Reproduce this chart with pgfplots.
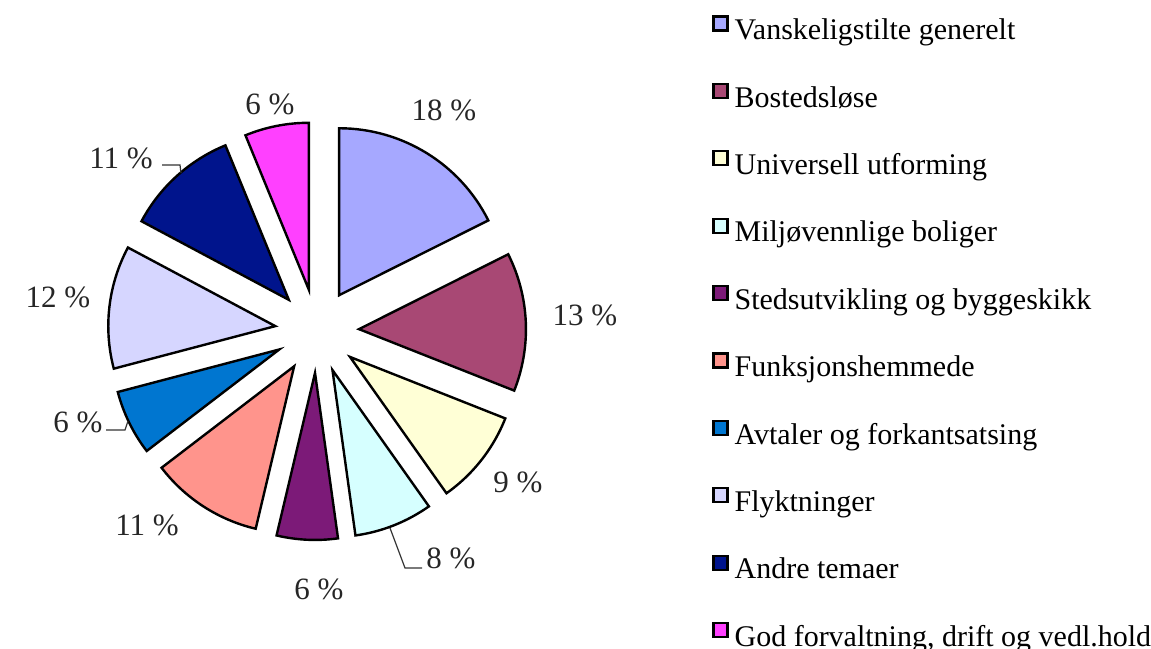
\documentclass[border=0pt]{standalone}
\usepackage{pgfplots}
\pgfplotsset{compat=1.18}
\usepackage{pgfplotstable}
\usepackage{fontspec}
\setmainfont{Liberation Serif}

\definecolor{cA}{RGB}{166,168,255}
\definecolor{cB}{RGB}{168,72,116}
\definecolor{cC}{RGB}{255,255,214}
\definecolor{cD}{RGB}{214,255,255}
\definecolor{cE}{RGB}{124,26,120}
\definecolor{cF}{RGB}{255,148,140}
\definecolor{cG}{RGB}{0,118,208}
\definecolor{cH}{RGB}{214,214,255}
\definecolor{cI}{RGB}{0,20,140}
\definecolor{cJ}{RGB}{255,64,255}

% share (%), fill colour, label position (pixels, y downwards)
\pgfplotstableread[col sep=semicolon]{
name;value;colour;lx;ly
Vanskeligstilte generelt;17.6;cA;444;110
Bostedsløse;13.4;cB;585;315
Universell utforming;9.2;cC;518;482
Miljøvennlige boliger;7.6;cD;451;558
Stedsutvikling og byggeskikk;5.9;cE;319;589
Funksjonshemmede;10.9;cF;147;525
Avtaler og forkantsatsing;6.3;cG;78;422
Flyktninger;11.9;cH;58;297
Andre temaer;11.0;cI;121;158
God forvaltning, drift og vedl.hold;6.2;cJ;270;104
}\piedata

\def\cx{317}  % pie centre
\def\cy{317}
\def\dd{42}   % explode distance
\def\R{83.5}  % radius in pt

\begin{document}
\begin{tikzpicture}
\begin{axis}[
    name=ax,
    x=0.5pt, y=0.5pt,
    xmin=0, xmax=1151, ymin=0, ymax=648,
    hide axis, clip=false,
    legend image code/.code={\draw[#1,line width=1.1pt] (0pt,0.6pt) rectangle (7pt,7.6pt);},
    legend style={
        at={(712/1151,1-15/648)}, anchor=north west,
        draw=none, fill=none, inner sep=0pt,
        font=\fontsize{15}{17}\selectfont,
        row sep=17.55pt, column sep=3pt,
        nodes={inner sep=0pt, text height=12pt, text depth=4pt},
        cells={anchor=west},
    },
]
\addplot[draw=none, forget plot] coordinates {(0,0) (1151,648)};
\def\cum{0}
\pgfplotsforeachungrouped \i in {0,...,9}{
    \pgfplotstablegetelem{\i}{value}\of\piedata \let\val\pgfplotsretval
    \pgfplotstablegetelem{\i}{colour}\of\piedata \let\col\pgfplotsretval
    \pgfplotstablegetelem{\i}{name}\of\piedata \let\nm\pgfplotsretval
    \pgfplotstablegetelem{\i}{lx}\of\piedata \let\lx\pgfplotsretval
    \pgfplotstablegetelem{\i}{ly}\of\piedata \let\ly\pgfplotsretval
    \pgfmathsetmacro\aS{90-3.6*\cum}
    \pgfmathsetmacro\cum{\cum+\val}
    \pgfmathsetmacro\aE{90-3.6*\cum}
    \pgfmathsetmacro\aM{(\aS+\aE)/2}
    \pgfmathsetmacro\ox{\cx+\dd*cos(\aM)}
    \pgfmathsetmacro\oy{\cy+\dd*sin(\aM)}
    \pgfmathsetmacro\lyy{648-\ly}
    \pgfmathtruncatemacro\pct{round(\val)}
    \edef\slice{%
        \noexpand\filldraw[fill=\col, draw=black, line width=1.2pt, line join=miter]
            (axis cs:\ox,\oy) -- ++(\aS:\R pt)
            arc[start angle=\aS, end angle=\aE, radius=\R pt] -- cycle;
        \noexpand\node[font=\noexpand\fontsize{15.5}{17}\noexpand\selectfont, text=black!85]
            at (axis cs:\lx,\lyy) {\pct~\noexpand\%};
        \noexpand\addlegendimage{fill=\col, draw=black}
        \noexpand\addlegendentry{\nm}
    }%
    \slice
}
% leader lines
\draw[black!80, line width=0.6pt] (axis cs:162,483) -- (axis cs:180,483) -- (axis cs:181,475);
\draw[black!80, line width=0.6pt] (axis cs:106,218) -- (axis cs:125,218) -- (axis cs:128,227);
\draw[black!80, line width=0.6pt] (axis cs:390,120) -- (axis cs:405,80) -- (axis cs:422,80);
\end{axis}
\pgfresetboundingbox
\path (ax.south west) rectangle (ax.north east);
\end{tikzpicture}
\end{document}
